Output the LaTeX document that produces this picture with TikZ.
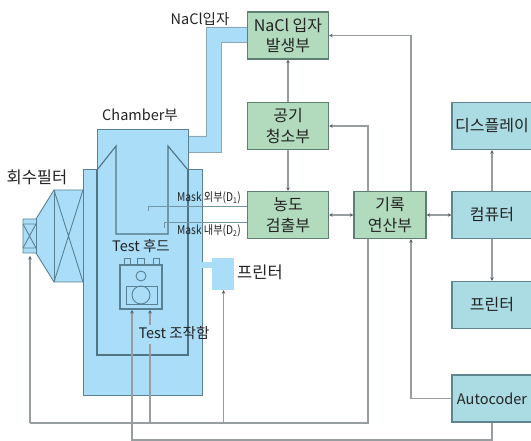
\documentclass[tikz,border=0pt]{standalone}
\usepackage{fontspec}
\setmainfont{Noto Sans CJK KR}
\usetikzlibrary{arrows.meta}
\definecolor{gbox}{HTML}{B2DABD}
\definecolor{bbox}{HTML}{ACDCE3}
\definecolor{edgeg}{HTML}{5E7F72}
\definecolor{edgeb}{HTML}{5F858F}
\definecolor{cyanf}{HTML}{A9DDF8}
\definecolor{cyand}{HTML}{5A8192}
\definecolor{wire}{HTML}{989EA0}
\definecolor{tipc}{HTML}{55606A}
\definecolor{txt}{HTML}{222222}
\tikzset{
 x=1pt,y=-1pt,
 boxtxt/.style={inner sep=0pt,align=center,font=\fontsize{16}{20.5}\selectfont,text=txt},
 gbx/.style={boxtxt,draw=edgeg,fill=gbox,line width=1.3pt,minimum height=47pt},
 bbx/.style={boxtxt,draw=edgeb,fill=bbox,line width=1.3pt,minimum width=80pt,minimum height=47pt},
 lbl/.style={inner sep=0pt,font=\fontsize{14.5}{17}\selectfont,text=txt},
 klbl/.style={inner sep=0pt,font=\fontsize{16.5}{19}\selectfont,text=txt},
 mlbl/.style={inner sep=0pt,font=\fontsize{12}{14}\selectfont,text=txt,xscale=.85},
 wr/.style={draw=wire,line width=1.1pt},
 arr/.style={wr,-{Stealth[length=3.5pt,width=3.5pt,color=tipc]}},
 arrb/.style={wr,{Stealth[length=3.5pt,width=3.5pt,color=tipc]}-{Stealth[length=3.5pt,width=3.5pt,color=tipc]}},
 cham/.style={draw=cyand,line width=1pt,fill=cyanf,line join=miter},
 inl/.style={draw=cyand!90!black,line width=1.1pt},
 thinl/.style={draw=cyand,line width=.9pt},
 maskl/.style={draw=cyand!85,line width=.8pt},
}
\begin{document}
\begin{tikzpicture}
\useasboundingbox (0,0) rectangle (531,441);
% duct
\fill[cyanf] (206,27) -- (247,27) -- (247,42) -- (221,42) -- (221,152) -- (188,152) -- (188,136) -- (206,136) -- cycle;
\draw[draw=cyand!70,line width=.9pt] (206,27) -- (247,27) (221,42) -- (247,42) (221,42) -- (221,152) -- (188,152) (188,136) -- (206,136) -- (206,27);
% filter
\fill[cyanf] (23,219) -- (36,219) -- (54,190) -- (83,190) -- (83,282) -- (54,282) -- (36,253) -- (23,253) -- cycle;
\draw[thinl] (23,219) -- (36,219) -- (54,190) -- (83,190) (83,282) -- (54,282) -- (36,253) -- (23,253) -- (23,219);
\draw[thinl] (36,219) -- (36,253) (54,190) -- (54,282);
\draw[thinl] (54,190) -- (83,282) (83,190) -- (54,282);
\draw[thinl] (23,224) -- (36,248) (36,224) -- (23,248) (23,224) -- (36,224) (23,248) -- (36,248);
% chamber
\path[cham] (83,170) -- (97,170) -- (97,130) -- (188,130) -- (188,170) -- (202,170) -- (202,395) -- (83,395) -- cycle;
\draw[inl] (97,170) -- (97,355) -- (188,355) -- (188,170);
\draw[inl] (97,170) -- (116,146) -- (116,234) -- (168,234) -- (168,146) -- (188,170);
% small printer
\fill[cyanf] (202,262) rectangle (212,268);
\node[fill=cyanf,minimum width=22pt,minimum height=32pt,inner sep=0pt] (pp) at (223,274) {};
% hood
\draw[thinl,line width=1.2pt] (120,265) rectangle (162,309);
\draw[thinl] (124,265) -- (124,258) -- (130,258) -- (130,265) (137,265) -- (137,258) -- (144,258) -- (144,265) (153,265) -- (153,258) -- (159,258) -- (159,265);
\draw[thinl] (126,286) rectangle (157,304);
\draw[thinl] (141,276) circle (5);
\draw[thinl] (141,295) circle (9);
\coordinate (hoodl) at (132,310);
\coordinate (hoodr) at (150,310);
% boxes
\node[gbx,minimum width=81pt] (nacl) at (288,35.5) {NaCl 입자\\발생부};
\node[gbx,minimum width=81pt] (air) at (288,126) {공기\\청소부};
\node[gbx,minimum width=81pt] (det) at (288,215) {농도\\검출부};
\node[gbx,minimum width=72pt] (rec) at (390,215) {기록\\연산부};
\node[bbx] (disp) at (492,126) {디스플레이};
\node[bbx] (comp) at (492,215) {컴퓨터};
\node[bbx] (prn) at (492,305) {프린터};
\node[bbx,font=\fontsize{14.5}{17}\selectfont] (auto) at (492,398.5) {Autocoder};
% mask sampling lines
\coordinate (m1) at (148,211);
\coordinate (m2) at (164,228);
\draw[maskl] (m1) |- (det.west |- 0,206);
\draw[maskl] (m2) |- (det.west |- 0,222);
\node[mlbl] (md1) at (209,198) {Mask 외부(D\textsubscript{1})};
\node[mlbl] (md2) at (209,231) {Mask 내부(D\textsubscript{2})};
% labels
\node[lbl] (l1) at (200,19) {NaCl입자};
\node[lbl] (l2) at (140,115) {Chamber부};
\node[klbl] (l3) at (37,177) {회수필터};
\node[lbl] (l4) at (141,246) {Test 후드};
\node[lbl] (l5) at (174,333) {Test 조작함};
\node[klbl] (l6) at (260,272) {프린터};
% wires
\coordinate (xa) at (411,0);
\coordinate (xb) at (368,0);
\coordinate (bus) at (0,423);
\coordinate (bus2) at (0,440);
\coordinate (xf) at (30,0);
\coordinate (xh) at (132,0);
\coordinate (xt) at (150,0);
\coordinate (xp) at (223.5,0);
\draw[arr] (air.north) -- (nacl.south);
\draw[arr] (air.south) -- (det.north);
\draw[arrb] (det.east) -- (rec.west);
\draw[arrb] (rec.east) -- (comp.west);
\draw[arr] (comp.north) -- (disp.south);
\draw[arr] (comp.south) -- (prn.north);
\draw[arr] (xa |- rec.north) -- (xa |- nacl.east) -- (nacl.east);
\draw[arr] (xb |- rec.north) -- (xb |- air.east) -- (air.east);
\draw[arr] (auto.west) -- (xa |- auto.west) -- (xa |- rec.south);
\draw[wr] (xb |- rec.south) -- (xb |- bus) -- (xf |- bus);
\draw[arr] (xf |- bus) -- (xf |- 0,256);
\draw[wr] (xt |- bus) -- (xt |- 0,344);
\draw[arr] (xt |- 0,325) -- (hoodr);
\draw[arr] (xp |- bus) -- (pp.south -| xp);
\draw[arr] (auto.south) -- (auto.south |- bus2) -- (xh |- bus2) -- (hoodl);
\end{tikzpicture}
\end{document}
